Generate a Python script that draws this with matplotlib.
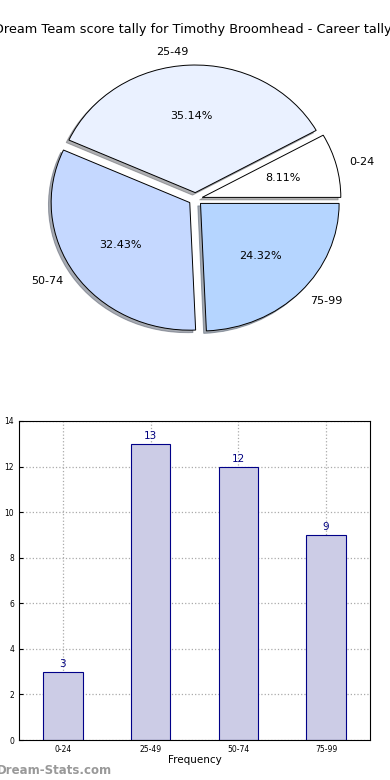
import numpy as np
import matplotlib
matplotlib.use("Agg")
import matplotlib.pyplot as plt

# data
categorias = ["0-24", "25-49", "50-74", "75-99"]
cuentas = [3, 13, 12, 9]
colores_pie = ["#ffffff", "#eaf1ff", "#c5d8ff", "#b5d5ff"]
titulo = "Dream Team score tally for Timothy Broomhead - Career tally"

fig = plt.figure(figsize=(3.9, 7.8), dpi=100)

# ---- pie ----
ax1 = fig.add_axes([(195.5 - 138.6) / 390, (581 - 127.6) / 780,
                    2 * 138.6 / 390, 2 * 127.6 / 780])
wedges, textos, autotextos = ax1.pie(
    cuentas, labels=categorias, colors=colores_pie, explode=[0.05] * 4,
    autopct="%1.2f%%", shadow={"ox": -0.014, "oy": -0.014, "shade": 0.6},
    startangle=0,
    wedgeprops=dict(edgecolor="black", linewidth=0.7),
    textprops=dict(fontsize=8))
ax1.set_aspect("auto")
ax1.set_xlim(-1, 1)
ax1.set_ylim(-1, 1)
ax1.axis("off")

fig.text(0.495, 1 - 30 / 780, titulo, ha="center", va="center", fontsize=9.3)

# ---- barras ----
ax2 = fig.add_axes([19 / 390, 40 / 780, 351 / 390, 319 / 780])
x = np.arange(len(categorias))
ax2.bar(x, cuentas, width=0.45, color="#ccccE6", edgecolor="#000088",
        linewidth=0.8, zorder=2)
for xi, v in zip(x, cuentas):
    ax2.text(xi, v + 0.12, str(v), ha="center", va="bottom",
             color="#000080", fontsize=7.5)
ax2.set_xlim(-0.5, 3.5)
ax2.set_ylim(0, 14)
ax2.set_yticks(range(0, 15, 2))
ax2.set_xticks(x)
ax2.set_xticklabels(categorias)
ax2.tick_params(labelsize=5.5, direction="in", length=3)
ax2.grid(True, linestyle=":", color="#aaaaaa", linewidth=0.9, zorder=0)
ax2.set_axisbelow(True)
ax2.set_xlabel("Frequency", fontsize=7.5, labelpad=1)
ax2.set_ylabel("Tally", fontsize=7)
ax2.yaxis.set_label_coords(-0.058, 0.5)

fig.text(-0.008, 1 - 770 / 780, "Dream-Stats.com", ha="left", va="center",
         fontsize=8.5, color="#999999", fontweight="bold")

fig.savefig("out.png", dpi=100)
